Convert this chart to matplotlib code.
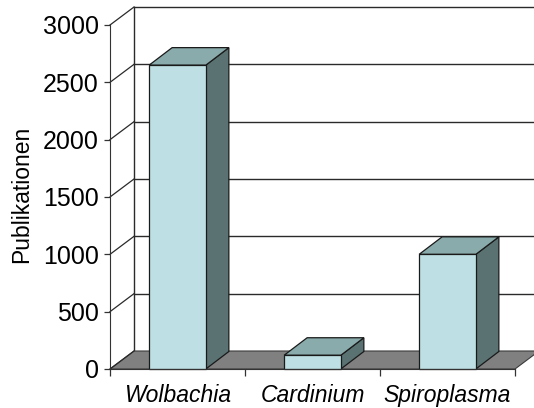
import matplotlib
matplotlib.use("Agg")
import matplotlib.pyplot as plt
from matplotlib.patches import Polygon

categories = ["Wolbachia", "Cardinium", "Spiroplasma"]
values = [2650, 120, 1000]
y_ticks = [0, 500, 1000, 1500, 2000, 2500, 3000]
y_label = "Publikationen"

plt.rcParams['font.family'] = ['Liberation Sans', 'DejaVu Sans']

W, H = 534, 408
fig = plt.figure(figsize=(W / 100, H / 100), dpi=100)

# front plane in pixels
x_left_px, x_right_px = 110, 515
y_bot_px, y_top_px = 369, 25
ax = fig.add_axes([x_left_px / W, 1 - y_bot_px / H,
                   (x_right_px - x_left_px) / W, (y_bot_px - y_top_px) / H])
n = len(categories)
ymax = y_ticks[-1]
ax.set_xlim(0, n)
ax.set_ylim(0, ymax)

px_per_x = (x_right_px - x_left_px) / n
px_per_y = (y_bot_px - y_top_px) / ymax
DXp, DYp = 24, 18
dx = DXp / px_per_x
dy = DYp / px_per_y
bdx = 23 / px_per_x
bdy = 17.5 / px_per_y

grid_col = '#2a2a2a'
# back wall
ax.plot([dx, dx], [dy, ymax + dy], color=grid_col, lw=1.0, clip_on=False, zorder=1)
for t in y_ticks[1:]:
    ax.plot([dx, n + dx + 0.2], [t + dy, t + dy], color=grid_col, lw=1.0,
            clip_on=False, zorder=1)
# floor
floor = Polygon([(0, 0), (n, 0), (n + dx, dy), (dx, dy)], closed=True,
                facecolor='#808080', edgecolor='#3a3a3a', lw=0.8,
                clip_on=False, zorder=2)
ax.add_patch(floor)
# left wall oblique lines
for t in y_ticks:
    ax.plot([0, dx], [t, t + dy], color=grid_col, lw=0.9, clip_on=False, zorder=2)

# bars
bw = 0.42
for i, v in enumerate(values):
    c = i + 0.5
    x0, x1 = c - bw / 2, c + bw / 2
    side = Polygon([(x1, 0), (x1 + bdx, bdy), (x1 + bdx, v + bdy), (x1, v)],
                   closed=True, facecolor='#5a7272', edgecolor='#1a1a1a',
                   lw=0.9, clip_on=False, zorder=4)
    top = Polygon([(x0, v), (x1, v), (x1 + bdx, v + bdy), (x0 + bdx, v + bdy)],
                  closed=True, facecolor='#8aabab', edgecolor='#1a1a1a',
                  lw=0.9, clip_on=False, zorder=4)
    front = Polygon([(x0, 0), (x1, 0), (x1, v), (x0, v)], closed=True,
                    facecolor='#bedfe3', edgecolor='#1a1a1a', lw=0.9,
                    clip_on=False, zorder=5)
    ax.add_patch(side)
    ax.add_patch(top)
    ax.add_patch(front)

# axes styling
ax.set_facecolor('none')
for s in ['top', 'right']:
    ax.spines[s].set_visible(False)
ax.spines['left'].set_color('#333333')
ax.spines['bottom'].set_color('#333333')
ax.spines['left'].set_zorder(6)
ax.spines['bottom'].set_zorder(6)

ax.set_yticks(y_ticks)
ax.set_yticklabels([str(t) for t in y_ticks], fontsize=18)
ax.tick_params(axis='y', direction='out', length=4, width=0.9, pad=4.0,
               color='#333333')

ax.set_xticks(list(range(n + 1)))
ax.set_xticklabels([''] * (n + 1))
ax.tick_params(axis='x', which='major', direction='out', length=5, width=0.9,
               color='#333333')
ax.set_xticks([i + 0.5 for i in range(n)], minor=True)
ax.set_xticklabels(categories, minor=True, fontsize=16.5, style='italic')
ax.tick_params(axis='x', which='minor', length=0, pad=11)

fig.text(22 / W, 1 - 194 / H, y_label, rotation=90, ha='center', va='center',
         fontsize=16.5)

fig.savefig('out.png', dpi=100)
